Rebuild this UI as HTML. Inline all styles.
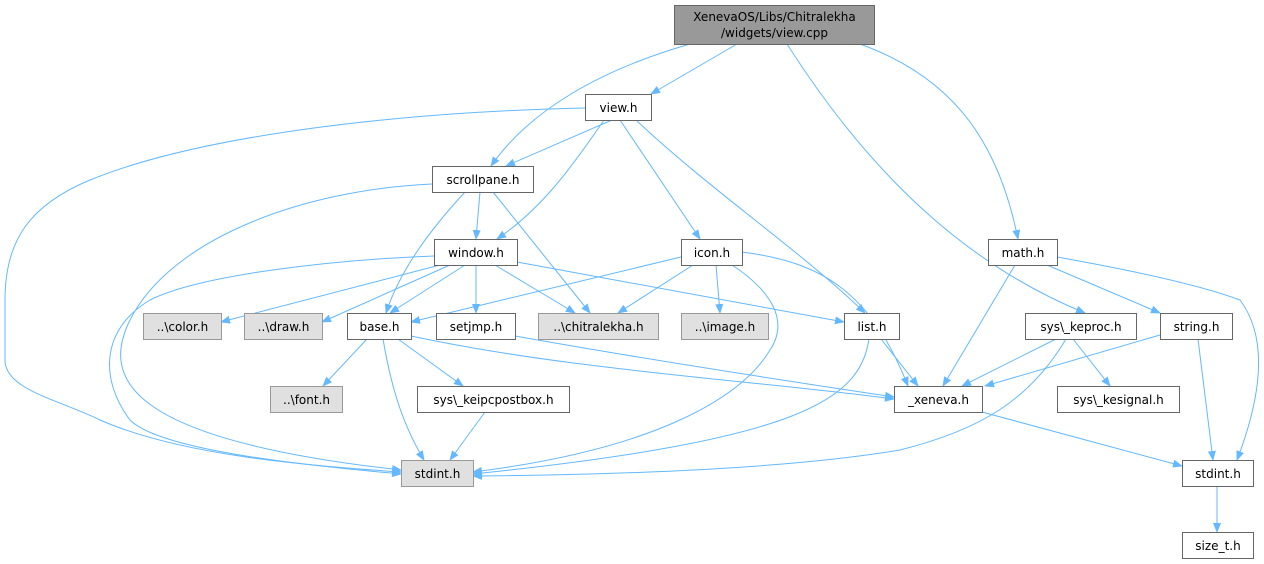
<!DOCTYPE html>
<html><head><meta charset="utf-8"><style>
html,body{margin:0;padding:0;background:#fff;}
svg{display:block;}
text{font-family:"DejaVu Sans","Liberation Sans",sans-serif;font-size:12px;fill:#000;}
.e{fill:none;stroke:#63b8ff;stroke-width:1;}
.n{fill:#fff;stroke:#666;stroke-width:1;}
.g{fill:#e0e0e0;stroke:#999;stroke-width:1;}
</style></head><body>
<svg width="1264" height="564" viewBox="0 0 1264 564" xmlns="http://www.w3.org/2000/svg">
<defs><marker id="a" markerWidth="10" markerHeight="8" refX="9" refY="4" orient="auto" markerUnits="userSpaceOnUse"><path d="M0,0 L10,4 L0,8 z" fill="#63b8ff"/></marker></defs>
<g marker-end="url(#a)">
<path class="e" d="M737,44 L651,94"/>
<path class="e" d="M690,44 C600,70 530,110 491,166"/>
<path class="e" d="M787,44 C880,190 980,270 1085,313"/>
<path class="e" d="M860,44 C960,80 1000,150 1018,239"/>
<path class="e" d="M585,108 C400,112 200,135 90,180 C30,205 5,240 5,300 L5,360 C5,390 60,400 100,420 C180,455 300,465 401,472"/>
<path class="e" d="M612,120 L506,166"/>
<path class="e" d="M604,120 C570,170 540,210 497,239"/>
<path class="e" d="M620,120 L700,239"/>
<path class="e" d="M636,120 C710,190 800,250 865,313"/>
<path class="e" d="M480,192 L476,239"/>
<path class="e" d="M465,192 C430,230 400,270 386,313"/>
<path class="e" d="M493,192 L590,313"/>
<path class="e" d="M432,184 C300,190 170,240 130,320 C100,380 130,440 401,470"/>
<path class="e" d="M434,256 C330,260 200,275 150,300 C100,330 100,380 130,420 C160,450 300,465 401,474"/>
<path class="e" d="M440,265 L221,322"/>
<path class="e" d="M450,265 L322,322"/>
<path class="e" d="M465,265 L390,313"/>
<path class="e" d="M476,265 L476,313"/>
<path class="e" d="M495,265 L575,313"/>
<path class="e" d="M517,262 L844,322"/>
<path class="e" d="M681,257 L411,322"/>
<path class="e" d="M693,265 L618,313"/>
<path class="e" d="M716,265 L720,313"/>
<path class="e" d="M732,265 C770,290 790,320 770,350 C740,400 650,450 473,472"/>
<path class="e" d="M742,252 C820,262 870,290 908,386"/>
<path class="e" d="M367,339 L323,386"/>
<path class="e" d="M383,339 C390,380 400,420 424,460"/>
<path class="e" d="M398,339 L463,386"/>
<path class="e" d="M411,336 C570,370 750,380 894,399"/>
<path class="e" d="M515,336 C650,360 780,380 894,397"/>
<path class="e" d="M485,412 L450,460"/>
<path class="e" d="M869,339 C860,400 800,440 473,474"/>
<path class="e" d="M881,339 L918,386"/>
<path class="e" d="M1015,265 L943,386"/>
<path class="e" d="M1047,265 L1160,313"/>
<path class="e" d="M1057,257 C1130,270 1200,285 1240,300 C1270,340 1260,400 1237,460"/>
<path class="e" d="M1056,339 L962,386"/>
<path class="e" d="M1073,339 L1110,386"/>
<path class="e" d="M1066,339 C1030,400 980,430 900,450 C780,470 600,475 473,476"/>
<path class="e" d="M1160,335 L985,386"/>
<path class="e" d="M1198,339 L1213,460"/>
<path class="e" d="M982,412 L1182,466"/>
<path class="e" d="M1217,486 L1217,532"/>
</g>
<rect x="674.5" y="5.5" width="200" height="39" fill="#999" stroke="#666"/>
<text x="774.5" y="21" text-anchor="middle">XenevaOS/Libs/Chitralekha</text>
<text x="774.5" y="37" text-anchor="middle">/widgets/view.cpp</text>
<g text-anchor="middle">
<rect class="n" x="585.5" y="94.5" width="66" height="26"/><text x="618.5" y="112">view.h</text>
<rect class="n" x="432.5" y="166.5" width="101" height="26"/><text x="483" y="184">scrollpane.h</text>
<rect class="n" x="434.5" y="239.5" width="83" height="26"/><text x="476" y="257">window.h</text>
<rect class="n" x="681.5" y="239.5" width="61" height="26"/><text x="712" y="257">icon.h</text>
<rect class="n" x="988.5" y="239.5" width="69" height="26"/><text x="1023" y="257">math.h</text>
<rect class="g" x="143.5" y="313.5" width="78" height="26"/><text x="182.5" y="331">..\color.h</text>
<rect class="g" x="244.5" y="313.5" width="78" height="26"/><text x="283.5" y="331">..\draw.h</text>
<rect class="n" x="347.5" y="313.5" width="64" height="26"/><text x="379.5" y="331">base.h</text>
<rect class="n" x="436.5" y="313.5" width="79" height="26"/><text x="476" y="331">setjmp.h</text>
<rect class="g" x="538.5" y="313.5" width="120" height="26"/><text x="598.5" y="331">..\chitralekha.h</text>
<rect class="g" x="681.5" y="313.5" width="87" height="26"/><text x="725" y="331">..\image.h</text>
<rect class="n" x="844.5" y="313.5" width="55" height="26"/><text x="872" y="331">list.h</text>
<rect class="n" x="1025.5" y="313.5" width="111" height="26"/><text x="1081" y="331">sys\_keproc.h</text>
<rect class="n" x="1160.5" y="313.5" width="72" height="26"/><text x="1196.5" y="331">string.h</text>
<rect class="g" x="270.5" y="386.5" width="72" height="26"/><text x="306.5" y="404">..\font.h</text>
<rect class="n" x="417.5" y="386.5" width="152" height="26"/><text x="493.5" y="404">sys\_keipcpostbox.h</text>
<rect class="n" x="894.5" y="386.5" width="88" height="26"/><text x="938.5" y="404">_xeneva.h</text>
<rect class="n" x="1057.5" y="386.5" width="122" height="26"/><text x="1118.5" y="404">sys\_kesignal.h</text>
<rect class="g" x="401.5" y="460.5" width="72" height="26"/><text x="437.5" y="478">stdint.h</text>
<rect class="n" x="1182.5" y="460.5" width="71" height="26"/><text x="1218" y="478">stdint.h</text>
<rect class="n" x="1182.5" y="532.5" width="71" height="26"/><text x="1218" y="550">size_t.h</text>
</g>
</svg>
</body></html>
